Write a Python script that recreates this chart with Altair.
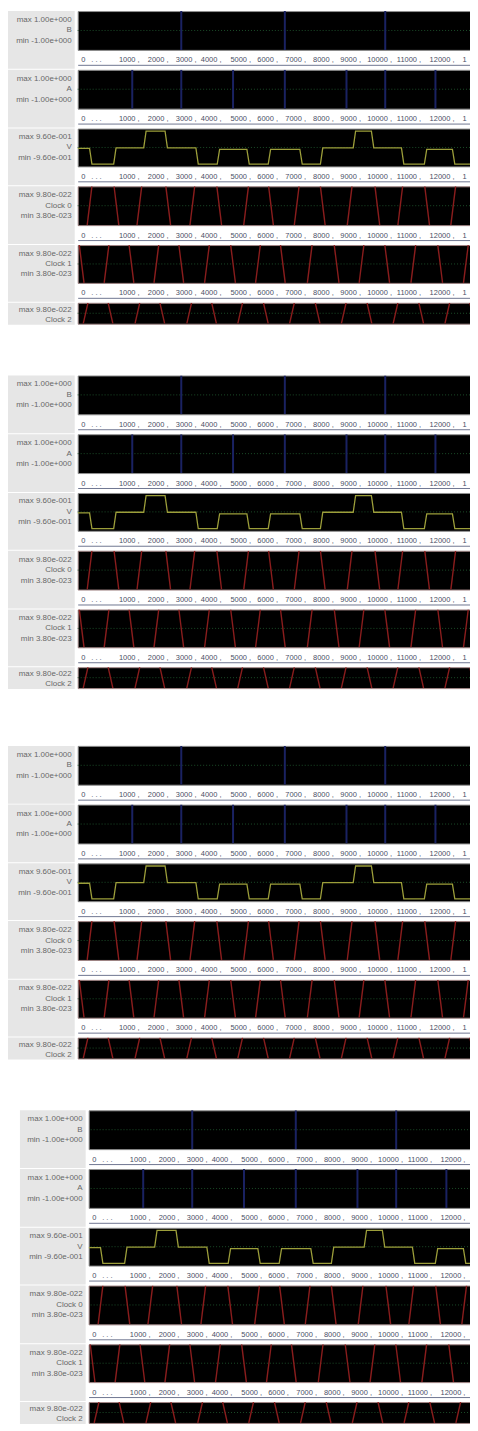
import json
import altair as alt
import pandas as pd

# ---------------- data ----------------
TIME_MAX = 1000                      # visible time window of one full-width panel
signals = ["B", "A", "V", "Clock 0", "Clock 1", "Clock 2"]
max_texts = ["max 1.00e+000", "max 1.00e+000", "max 9.60e-001",
             "max 9.80e-022", "max 9.80e-022", "max 9.80e-022"]
min_texts = ["min -1.00e+000", "min -1.00e+000", "min -9.60e-001",
             "min 3.80e-023", "min 3.80e-023", ""]

# time ruler shown in the strip under each trace
ruler_ticks = [8, 33, 103, 176, 247, 310, 385, 453, 524, 594, 663, 731, 806, 889, 972]
ruler_labels = ["0", ". . .", "1000 ,", "2000 ,", "3000 ,", "4000 ,", "5000 ,", "6000 ,",
                "7000 ,", "8000 ,", "9000 ,", "10000 ,", "11000 ,", "12000 ,", "1"]

# digital traces: times of the transitions
B_edges = [262, 524, 778]
A_edges = [138, 262, 393, 524, 680, 778, 905]
clock0_edges = [30, 98, 156, 229, 290, 358, 426, 489, 554, 620, 688, 758, 816, 884, 950]
clock1_edges = [10, 73, 136, 199, 262, 327, 393, 456, 519, 587, 655, 718, 783, 849, 917, 982]
clock2_edges = [20, 83, 151, 214, 282, 345, 411, 476, 542, 607, 673, 738, 804, 869, 935, 998]

# analog trace V: vertices (time, value)
V_t = [0, 30, 36, 91, 97, 167, 173, 221, 227, 299, 305, 353, 359, 428, 434, 482, 488,
       562, 568, 614, 620, 697, 703, 743, 749, 819, 825, 877, 883, 948, 954, 1000]
V_v = [-0.05, -0.05, -0.88, -0.88, -0.02, -0.02, 0.86, 0.86, -0.02, -0.02, -0.88, -0.88,
       -0.1, -0.1, -0.88, -0.88, -0.1, -0.1, -0.88, -0.88, -0.02, -0.02, 0.86, 0.86,
       -0.02, -0.02, -0.88, -0.88, -0.1, -0.1, -0.88, -0.88]

# ---------------- build tables ----------------
CLK_HALF = 6          # half duration of a clock edge (time units)
clk_rows = []
for name, edges, rising in (("Clock 0", clock0_edges, True),
                            ("Clock 1", clock1_edges, False),
                            ("Clock 2", clock2_edges, True)):
    for e in edges:
        clk_rows.append({"signal": name, "t0": e - CLK_HALF, "t1": e + CLK_HALF,
                         "v0": -1.0 if rising else 1.0, "v1": 1.0 if rising else -1.0})
        rising = not rising
clk_df = pd.DataFrame(clk_rows)
v_df = pd.DataFrame({"signal": "V", "idx": range(len(V_t)), "t": V_t, "v": V_v})
edge_df = pd.DataFrame({"signal": ["B"] * len(B_edges) + ["A"] * len(A_edges),
                        "t": B_edges + A_edges})
mid_df = pd.DataFrame({"v": [0.0]})
lab_df = pd.DataFrame({"signal": signals, "maxt": max_texts, "mint": min_texts})

colors = {"B": "#1a2262", "A": "#1a2262", "V": "#9c9e3a",
          "Clock 0": "#8a1d1d", "Clock 1": "#8a1d1d", "Clock 2": "#8a1d1d"}
frame = {"B": "#8f8f8f", "A": "#8f8f8f", "V": "#8f8f8f",
         "Clock 0": "#a08585", "Clock 1": "#a08585", "Clock 2": "#a08585"}
panel_h = [39, 39, 38, 39, 38, 21]
STRIP = 19   # (+1 px of stroke overhang above each panel)


def block(plot_w, dom_max, label_w, left_pad, ticks):
    lab_expr = "{}[indexof({}, datum.value)]".format(json.dumps(ruler_labels), json.dumps(ruler_ticks))
    rws = []
    for i, s in enumerate(signals):
        last = i == len(signals) - 1
        ph = panel_h[i]
        if last:
            ys = [7, 17, None]
        else:
            ys = [ph / 2 - 10.5, ph / 2, ph / 2 + 10.5]
        txt = dict(align="right", baseline="middle", fontSize=8, font="Liberation Sans",
                   color="#666666")
        base_lab = alt.Chart(lab_df).transform_filter(alt.datum.signal == s)
        layers = [
            base_lab.mark_text(**txt).encode(text="maxt:N", x=alt.value(label_w - 3), y=alt.value(ys[0])),
            base_lab.mark_text(**txt).encode(text="signal:N", x=alt.value(label_w - 3), y=alt.value(ys[1])),
        ]
        if ys[2] is not None:
            layers.append(base_lab.mark_text(**txt).encode(text="mint:N", x=alt.value(label_w - 3),
                                                           y=alt.value(ys[2])))
        lab = alt.layer(*layers).properties(
            width=label_w, height=ph + 1 if last else ph + STRIP,
            view=alt.ViewBackground(fill="#e6e6e6", stroke=None))

        xscale = alt.Scale(domain=[0, dom_max], nice=False, zero=False)
        if last:
            xaxis = None
        else:
            xaxis = alt.Axis(values=ticks, labelExpr=lab_expr, ticks=False, tickSize=0,
                             domain=True, domainColor="#6f7690", domainWidth=1, grid=False,
                             title=None, labelAlign="left", labelBaseline="bottom",
                             labelPadding=-1, offset=15, labelFontSize=7.5,
                             labelFont="Liberation Sans", labelColor="#4a4f66",
                             labelOverlap=False, labelFlush=False, labelBound=False, zindex=1)
        yscale = alt.Scale(domain=[-1, 1], nice=False, zero=False)
        mid = alt.Chart(mid_df).mark_rule(color="#1b4d28", strokeDash=[1, 2], strokeWidth=1).encode(
            y=alt.Y("v:Q", scale=yscale, axis=None))
        if s in ("B", "A"):
            trace = (
                alt.Chart(edge_df)
                .transform_filter(alt.datum.signal == s)
                .mark_rule(color=colors[s], strokeWidth=2, clip=True)
                .encode(x=alt.X("t:Q", scale=xscale, axis=xaxis))
            )
        elif s == "V":
            trace = (
                alt.Chart(v_df)
                .mark_line(color=colors[s], strokeWidth=1.3, clip=True)
                .encode(x=alt.X("t:Q", scale=xscale, axis=xaxis),
                        y=alt.Y("v:Q", scale=yscale, axis=None),
                        order="idx:Q")
            )
        else:
            trace = (
                alt.Chart(clk_df)
                .transform_filter(alt.datum.signal == s)
                .mark_rule(color=colors[s], strokeWidth=1.4, clip=True)
                .encode(x=alt.X("t0:Q", scale=xscale, axis=xaxis), x2="t1:Q",
                        y=alt.Y("v0:Q", scale=yscale, axis=None), y2="v1:Q")
            )
        panel = alt.layer(mid, trace).properties(
            width=plot_w, height=ph, view=alt.ViewBackground(fill="#000000", stroke=frame[s]))
        rws.append(alt.hconcat(lab, panel, spacing=2))
    blk = alt.vconcat(*rws, spacing=0)
    pad = (alt.Chart(mid_df).mark_point(opacity=0, size=1)
           .properties(width=left_pad, height=10, view=alt.ViewBackground(stroke=None)))
    return alt.hconcat(pad, blk, spacing=0)


b1 = block(397, TIME_MAX, 71, 4, ruler_ticks)
b2 = block(397, TIME_MAX, 71, 4, ruler_ticks)
b3 = block(397, TIME_MAX, 71, 4, ruler_ticks)
b4 = block(390, TIME_MAX * 390 / 397, 66, 20, ruler_ticks[:-1])

chart = alt.vconcat(
    alt.vconcat(b1, b2, spacing=50),
    alt.vconcat(b3, b4, spacing=50),
    spacing=56,
).properties(padding={"left": -8, "right": -8, "top": -1, "bottom": 0}, background="#ffffff")

chart.save("out.html", embed_options={"renderer": "svg", "actions": False})
